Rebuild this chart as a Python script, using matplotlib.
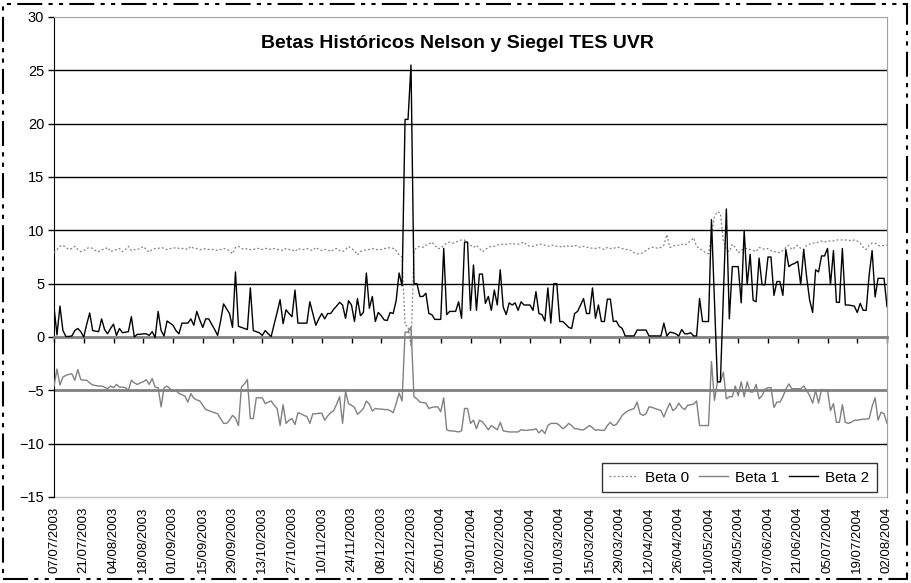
import numpy as np
import matplotlib
matplotlib.use("Agg")
import matplotlib.pyplot as plt
from matplotlib.patches import Rectangle

plt.rcParams['font.family'] = ['Liberation Sans', 'DejaVu Sans']

tick_labels = ["07/07/2003", "21/07/2003", "04/08/2003", "18/08/2003", "01/09/2003",
               "15/09/2003", "29/09/2003", "13/10/2003", "27/10/2003", "10/11/2003",
               "24/11/2003", "08/12/2003", "22/12/2003", "05/01/2004", "19/01/2004",
               "02/02/2004", "16/02/2004", "01/03/2004", "15/03/2004", "29/03/2004",
               "12/04/2004", "26/04/2004", "10/05/2004", "24/05/2004", "07/06/2004",
               "21/06/2004", "05/07/2004", "19/07/2004", "02/08/2004"]

beta0 = [
    7.9, 8.2, 8.5, 8.6, 8.4, 8.2, 8.3, 8.5, 8.2, 8.0,
    8.1, 8.3, 8.4, 8.3, 8.1, 8.0, 8.2, 8.2, 8.4, 8.0,
    8.1, 8.2, 8.3, 8.0, 8.2, 8.5, 8.1, 8.2, 8.2, 8.3,
    8.5, 8.2, 7.95, 8.2, 8.3, 8.3, 8.4, 8.3, 8.2, 8.3,
    8.3, 8.4, 8.3, 8.3, 8.3, 8.2, 8.5, 8.3, 8.3, 8.2,
    8.2, 8.3, 8.2, 8.2, 8.2, 8.1, 8.2, 8.3, 8.2, 8.1,
    7.8, 8.4, 8.5, 8.3, 8.2, 8.3, 8.2, 8.2, 8.3, 8.3,
    8.2, 8.3, 8.3, 8.2, 8.3, 8.2, 8.2, 8.1, 8.3, 8.2,
    8.2, 8.0, 8.3, 8.2, 8.2, 8.3, 8.2, 8.1, 8.4, 8.2,
    8.1, 8.2, 8.2, 8.0, 8.2, 8.3, 8.1, 8.0, 8.2, 8.5,
    8.3, 8.1, 7.7, 8.0, 8.1, 8.2, 8.2, 8.3, 8.2, 8.2,
    8.2, 8.3, 8.3, 8.4, 8.3, 8.1, 7.7, 7.5, 1.1, 1.0,
    -0.85, 8.1, 8.4, 8.5, 8.4, 8.6, 8.7, 8.9, 8.6, 8.3,
    8.3, 8.6, 8.8, 8.9, 8.8, 8.9, 9.0, 9.1, 9.1, 8.8,
    8.6, 8.4, 8.6, 8.3, 8.0, 8.2, 8.4, 8.5, 8.5, 8.6,
    8.7, 8.7, 8.7, 8.7, 8.8, 8.7, 8.7, 8.8, 8.9, 8.6,
    8.5, 8.5, 8.6, 8.7, 8.7, 8.6, 8.5, 8.6, 8.6, 8.5,
    8.5, 8.4, 8.6, 8.5, 8.5, 8.6, 8.5, 8.4, 8.5, 8.4,
    8.4, 8.3, 8.3, 8.4, 8.3, 8.2, 8.4, 8.3, 8.3, 8.4,
    8.4, 8.3, 8.2, 8.2, 8.1, 7.9, 7.8, 7.8, 7.9, 8.1,
    8.3, 8.4, 8.4, 8.3, 8.4, 8.6, 9.6, 8.4, 8.5, 8.6,
    8.6, 8.7, 8.6, 8.8, 9.0, 9.3, 8.5, 8.3, 8.1, 7.9,
    7.8, 9.5, 11.3, 11.75, 11.6, 9.0, 8.2, 8.0, 8.7, 8.4,
    7.9, 8.1, 8.3, 8.3, 8.2, 8.1, 8.0, 8.4, 8.3, 8.2,
    8.3, 8.1, 8.0, 8.0, 7.9, 8.1, 8.4, 8.6, 8.2, 8.4,
    8.6, 8.3, 8.2, 8.6, 8.7, 8.8, 8.8, 8.9, 9.0, 8.9,
    9.0, 9.0, 9.0, 9.1, 9.1, 9.1, 9.1, 9.1, 9.0, 9.1,
    9.0, 8.8, 8.4, 8.2, 8.6, 8.8, 8.8, 8.6, 8.5, 8.6, 8.6,
]

beta1 = [
    -4.6, -3.0, -4.5, -3.75, -3.6, -3.5, -3.45, -4.05, -3.05, -4.0,
    -4.05, -4.05, -4.3, -4.5, -4.55, -4.6, -4.6, -4.7, -4.85, -4.6,
    -4.75, -4.45, -4.7, -4.7, -4.75, -5.0, -4.05, -4.3, -4.45, -4.3,
    -4.2, -4.0, -4.45, -3.9, -4.7, -4.75, -6.55, -4.75, -4.6, -4.85,
    -5.1, -5.0, -5.3, -5.4, -5.55, -6.1, -5.3, -5.75, -5.9, -6.0,
    -6.4, -6.8, -6.9, -7.0, -7.1, -7.2, -7.65, -8.1, -8.1, -7.8,
    -7.35, -7.6, -8.3, -4.7, -4.4, -4.0, -7.65, -7.65, -5.7, -5.7,
    -5.7, -6.25, -6.1, -6.0, -6.4, -6.7, -8.3, -6.35, -8.1, -7.8,
    -7.65, -8.2, -7.1, -7.2, -7.35, -7.45, -8.1, -7.2, -7.2, -7.15,
    -7.15, -7.8, -7.4, -7.1, -6.9, -6.3, -5.6, -8.1, -5.1, -6.25,
    -6.4, -6.6, -7.25, -7.0, -6.7, -6.0, -6.3, -6.95, -6.7, -6.75,
    -6.75, -6.8, -6.8, -6.9, -7.1, -6.25, -5.25, -6.0, 0.45, 0.45,
    0.95, -5.6, -5.8, -6.1, -6.15, -6.2, -6.7, -6.6, -6.55, -6.55,
    -7.0, -5.7, -8.7, -8.8, -8.8, -8.85, -8.9, -8.8, -6.7, -6.7,
    -8.1, -7.8, -8.6, -7.8, -7.95, -8.3, -8.7, -8.3, -8.5, -8.7,
    -8.0, -8.8, -8.85, -8.9, -8.9, -8.9, -8.9, -8.7, -8.75, -8.75,
    -8.7, -8.7, -8.6, -9.0, -8.7, -9.05, -8.3, -8.1, -8.1, -8.1,
    -8.3, -8.6, -8.4, -8.1, -8.3, -8.6, -8.6, -8.7, -8.7, -8.5,
    -8.3, -8.5, -8.75, -8.7, -8.75, -8.75, -8.3, -8.0, -8.3, -8.2,
    -7.8, -7.35, -7.1, -6.9, -6.8, -6.7, -6.1, -7.2, -7.35, -7.2,
    -6.55, -6.6, -6.7, -6.8, -6.9, -7.5, -6.8, -6.2, -6.9, -6.7,
    -6.2, -6.6, -6.8, -6.4, -6.35, -6.3, -6.0, -8.3, -8.3, -8.3,
    -8.3, -2.3, -5.95, -4.2, -4.2, -3.3, -5.8, -5.6, -5.6, -4.6,
    -5.5, -4.2, -5.6, -4.2, -5.15, -5.15, -4.45, -5.8, -5.5, -4.9,
    -4.75, -4.75, -6.6, -6.1, -6.1, -5.6, -4.9, -4.4, -4.85, -4.85,
    -4.85, -4.85, -4.6, -5.0, -5.5, -6.2, -5.0, -6.2, -4.9, -5.0,
    -5.0, -6.9, -6.25, -8.0, -8.0, -6.35, -8.0, -8.1, -8.0, -7.8,
    -7.8, -7.75, -7.7, -7.7, -7.65, -6.5, -5.7, -7.8, -7.05, -7.2, -8.1,
]

beta2 = [
    2.8, 0.2, 2.9, 0.6, 0.05, 0.05, 0.1, 0.6, 0.8, 0.5,
    0.0, 1.2, 2.25, 0.6, 0.55, 0.5, 1.7, 0.7, 0.3, 0.8,
    1.2, 0.15, 0.8, 0.4, 0.45, 0.5, 1.9, 0.0, 0.25, 0.25,
    0.3, 0.3, 0.15, 0.5, -0.05, 2.4, 0.6, 0.1, 1.5, 1.3,
    1.1, 0.6, 0.3, 1.3, 1.3, 1.3, 1.7, 1.1, 2.4, 1.6,
    0.9, 1.7, 1.7, 1.2, 0.7, 0.15, 1.5, 3.1, 2.65, 2.2,
    0.9, 6.1, 1.0, 0.9, 0.8, 0.7, 4.6, 0.6, 0.5, 0.4,
    0.15, 0.6, 0.3, 0.05, 1.2, 2.3, 3.5, 1.25, 2.55, 2.2,
    1.9, 4.4, 1.3, 1.3, 1.3, 1.3, 3.3, 2.2, 1.1, 1.7,
    2.2, 1.7, 2.2, 2.2, 2.6, 2.9, 3.25, 3.0, 1.75, 3.4,
    3.0, 1.45, 3.6, 2.0, 2.3, 6.0, 2.7, 3.8, 1.45, 2.3,
    2.0, 1.6, 1.55, 2.3, 2.2, 3.4, 6.0, 4.8, 20.4, 20.4,
    25.5, 5.0, 5.0, 3.8, 3.8, 4.1, 2.2, 2.1, 1.65, 1.65,
    1.65, 8.3, 2.1, 2.4, 2.4, 2.4, 3.3, 1.75, 8.9, 8.9,
    2.5, 6.75, 2.5, 5.9, 5.9, 3.15, 3.8, 2.5, 4.4, 3.0,
    6.3, 2.8, 2.1, 3.2, 3.0, 3.2, 2.5, 3.3, 3.0, 3.0,
    3.0, 2.5, 4.25, 2.2, 2.1, 1.5, 4.6, 1.3, 5.0, 5.0,
    1.45, 1.45, 1.2, 0.9, 0.8, 2.2, 2.4, 3.0, 3.6, 2.2,
    2.2, 4.6, 1.75, 3.0, 1.45, 1.45, 3.55, 3.55, 1.45, 1.5,
    1.0, 0.8, 0.1, 0.1, 0.1, 0.1, 0.65, 0.65, 0.65, 0.65,
    0.1, 0.1, 0.1, 0.1, 0.1, 1.3, 0.1, 0.45, 0.4, 0.3,
    0.1, 0.7, 0.3, 0.3, 0.4, 0.1, 0.1, 3.6, 1.45, 1.45,
    1.45, 11.0, 3.4, -4.2, -4.2, 4.0, 12.0, 1.7, 6.6, 6.6,
    6.6, 3.2, 10.0, 4.9, 7.75, 3.45, 3.3, 7.4, 4.9, 4.9,
    7.5, 7.5, 3.9, 5.2, 5.2, 3.9, 8.2, 6.6, 6.8, 6.9,
    7.1, 4.9, 8.2, 5.6, 3.45, 2.3, 6.3, 6.1, 7.6, 7.6,
    8.3, 4.9, 8.1, 3.25, 3.25, 8.3, 3.0, 3.0, 2.95, 2.9,
    2.3, 3.15, 2.5, 2.5, 5.8, 8.1, 3.75, 5.5, 5.5, 5.5, 2.85,
]

x = np.arange(len(beta0))
tick_pos = np.arange(0, len(x), 10)

fig = plt.figure(figsize=(9.11, 5.83), dpi=100)
ax = fig.add_axes([54 / 911, 1 - 497 / 583, 833 / 911, 480 / 583])

ax.set_xlim(0, len(x) - 1)
ax.set_ylim(-15, 30)
ax.set_yticks(np.arange(-15, 31, 5))
ax.tick_params(axis='y', direction='out', length=4, width=1, labelsize=10.5, pad=3)

for v in [5, 10, 15, 20, 25, -10]:
    ax.axhline(v, color='black', lw=1.0, zorder=1)
ax.axhline(-5, color='#808080', lw=2.0, zorder=1)

ax.plot(x, beta0, color='#808080', lw=0.9, ls=(0, (1.5, 1.8)), label='Beta 0', zorder=3)
ax.plot(x, beta1, color='#808080', lw=1.0, label='Beta 1', zorder=3)
ax.plot(x, beta2, color='black', lw=1.0, label='Beta 2', zorder=4)

# x axis crossing at zero
ax.spines['bottom'].set_position(('data', 0))
ax.spines['bottom'].set_color('#808080')
ax.spines['bottom'].set_linewidth(2.0)
ax.set_xticks(tick_pos)
ax.tick_params(axis='x', direction='out', length=4, width=1, color='black', labelbottom=False)
ax.spines['left'].set_color('black')
ax.spines['top'].set_color('#a0a0a0')
ax.spines['right'].set_color('#a0a0a0')

sec = ax.secondary_xaxis('bottom')
sec.set_xticks(tick_pos, tick_labels, rotation=90, fontsize=9.5)
sec.tick_params(length=0, pad=7)
sec.spines['bottom'].set_color('#c0c0c0')
sec.spines['bottom'].set_linewidth(1.0)

ax.text(0.484, 0.945, 'Betas Históricos Nelson y Siegel TES UVR', transform=ax.transAxes,
        ha='center', va='center', fontsize=14, fontweight='bold')

leg = ax.legend(loc='lower right', bbox_to_anchor=(0.988, 0.01), ncol=3, fontsize=11,
                frameon=True, fancybox=False, edgecolor='black', handlelength=1.9,
                handletextpad=0.45, columnspacing=0.65, borderpad=0.5, borderaxespad=0.0)
leg.get_frame().set_linewidth(1.0)

fig.patches.append(Rectangle((3 / 911, 4 / 583), 904 / 911, 575 / 583, transform=fig.transFigure,
                             fill=False, edgecolor='black', lw=1.5,
                             ls=(0, (12, 3, 2, 3, 2, 3))))

fig.savefig('out.png', dpi=100)
